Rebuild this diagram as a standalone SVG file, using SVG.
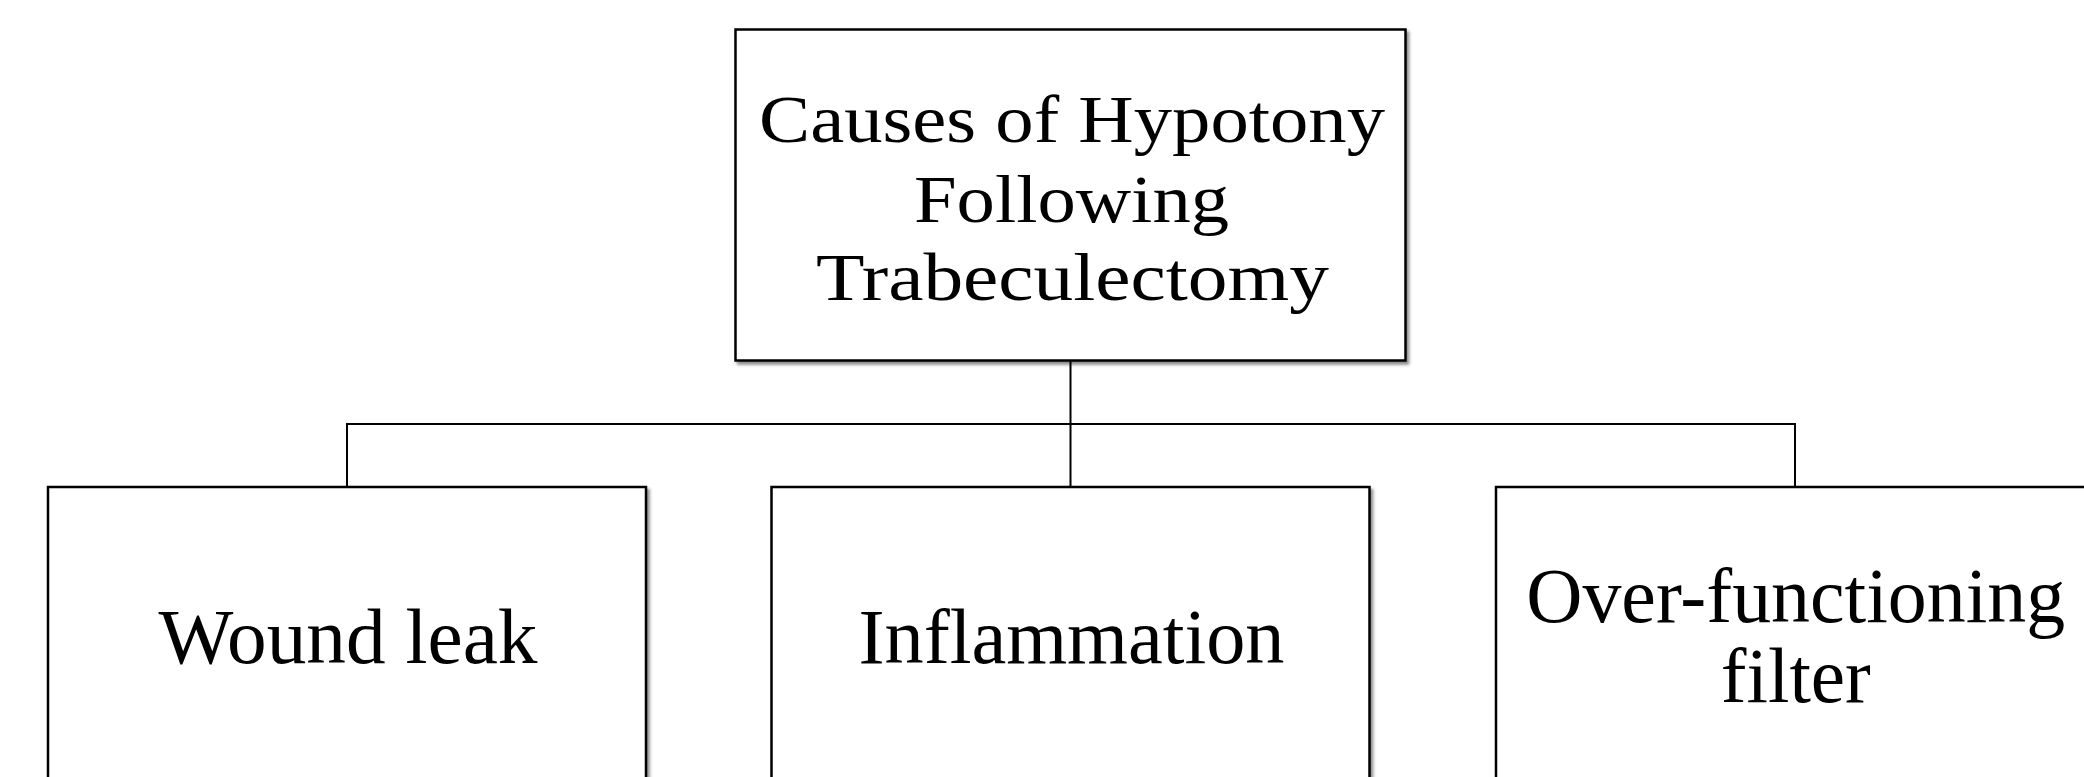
<svg xmlns="http://www.w3.org/2000/svg" width="2084" height="777" viewBox="0 0 2084 777">
<defs>
<filter id="sh" x="-5%" y="-5%" width="112%" height="112%">
<feDropShadow dx="2.5" dy="3" stdDeviation="1.8" flood-color="#000" flood-opacity="0.45"/>
</filter>
</defs>
<style>
.box{fill:#fff;stroke:#000;stroke-width:2.5;filter:url(#sh)}
.t{font-family:"Liberation Serif","Times New Roman",serif;fill:#000;text-anchor:middle}
.top{font-size:68px}
.bot{font-size:78px}
.conn{fill:none;stroke:#000;stroke-width:2}
</style>
<rect width="2084" height="777" fill="#fff"/>
<g id="connectors">
<path class="conn" d="M1070.5 361 V487 M347 487 V424 H1795 V487"/>
</g>
<g id="node-root">
<rect class="box" x="735.5" y="29.5" width="670" height="331"/>
<text class="t top" x="1072" y="141.7" textLength="626" lengthAdjust="spacingAndGlyphs">Causes of Hypotony</text>
<text class="t top" x="1071.5" y="221.7" textLength="315" lengthAdjust="spacingAndGlyphs">Following</text>
<text class="t top" x="1072.5" y="300" textLength="513" lengthAdjust="spacingAndGlyphs">Trabeculectomy</text>
</g>
<g id="node-wound">
<rect class="box" x="48" y="487" width="598" height="320"/>
<text class="t bot" x="348" y="663" textLength="379" lengthAdjust="spacingAndGlyphs">Wound leak</text>
</g>
<g id="node-inflammation">
<rect class="box" x="771.5" y="487" width="598" height="320"/>
<text class="t bot" x="1071.5" y="663" textLength="426" lengthAdjust="spacingAndGlyphs">Inflammation</text>
</g>
<g id="node-filter">
<rect class="box" x="1496" y="487" width="598" height="320"/>
<text class="t bot" x="1795.7" y="621.7" textLength="539" lengthAdjust="spacingAndGlyphs">Over-functioning</text>
<text class="t bot" x="1795.8" y="701.7" textLength="150" lengthAdjust="spacingAndGlyphs">filter</text>
</g>
</svg>
